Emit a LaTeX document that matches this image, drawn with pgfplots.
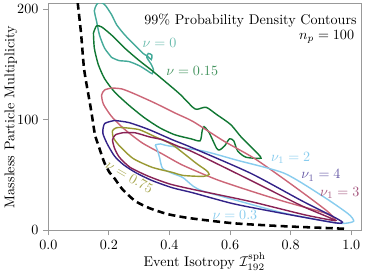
\documentclass[border=0pt]{standalone}
\usepackage{pgfplots}
\pgfplotsset{compat=1.18}
\definecolor{cteal}{HTML}{44AA99}
\definecolor{cgreen}{HTML}{117733}
\definecolor{ccyan}{HTML}{88CCEE}
\definecolor{colive}{HTML}{999933}
\definecolor{crose}{HTML}{CC6677}
\definecolor{cwine}{HTML}{882255}
\definecolor{cindigo}{HTML}{332288}
\begin{document}
\begin{tikzpicture}
\begin{axis}[
  width=221.8pt, height=160.6pt, scale only axis,
  xmin=0, xmax=1.033, ymin=0, ymax=205,
  xtick={0,0.2,0.4,0.6,0.8,1.0},
  xticklabels={0.0,0.2,0.4,0.6,0.8,1.0},
  ytick={0,100,200},
  tick align=outside, tick pos=left,
  axis line style={gray!80},
  major tick style={gray!80, line width=0.6pt},
  major tick length=3.5pt,
  xlabel={Event Isotropy $\mathcal{I}^{\rm sph}_{192}$},
  ylabel={Massless Particle Multiplicity},
  xlabel style={yshift=5pt},
  ylabel style={yshift=-7pt},
  every axis plot/.append style={line width=1pt},
]
% dashed boundary
\addplot[black, line width=1.8pt, dash pattern=on 5pt off 3pt, smooth, tension=0.4] coordinates {
(0.097,206) (0.108,178.5) (0.118,146.3) (0.132,123.3) (0.142,107.6) (0.154,86.5) (0.165,77.3) (0.176,68.1) (0.186,60.7) (0.202,52.4) (0.219,46.9) (0.243,37.7) (0.286,26.7) (0.333,20.2) (0.394,14.7) (0.468,11.0) (0.612,6.4) (0.780,3.7) (0.947,1.8) (0.981,1.4)
};
% teal nu=0
\addplot[cteal, smooth, tension=0.4] coordinates {
(0.209,156.4) (0.233,153.6) (0.266,152.7) (0.300,149.0) (0.327,144.4) (0.343,141.7) (0.347,145.4) (0.340,150.0) (0.333,153.0) (0.325,156.5) (0.330,160.0) (0.342,158.5) (0.340,154.5) (0.328,157.5) (0.313,160.0) (0.286,167.4) (0.253,176.6) (0.226,185.8) (0.209,195.0) (0.189,203.3) (0.176,206) (0.165,206) (0.159,204) (0.152,198.7) (0.159,189.5) (0.169,176.6) (0.186,164.7) (0.209,156.4)
};
% green nu=0.15
\addplot[cgreen, smooth, tension=0.4] coordinates {
(0.149,178.5) (0.152,164.7) (0.165,150.0) (0.186,137.1) (0.219,125.1) (0.266,113.2) (0.316,102.1) (0.367,92.9) (0.417,86.5) (0.471,82.8) (0.501,81.0) (0.508,90.2) (0.514,93.8) (0.531,88.3) (0.555,74.5) (0.565,72.7) (0.582,76.4) (0.598,82.8) (0.612,81.0) (0.625,71.8) (0.652,66.2) (0.702,65.3) (0.679,72.7) (0.636,84.6) (0.602,95.7) (0.555,104.9) (0.521,111.3) (0.491,109.5) (0.477,111.3) (0.434,123.3) (0.387,134.3) (0.343,144.4) (0.300,153.6) (0.253,164.7) (0.209,176.6) (0.176,184.0) (0.159,184.9) (0.149,178.5)
};
% rose
\addplot[crose, smooth, tension=0.4] coordinates {
(0.209,128.8) (0.243,127.9) (0.286,123.3) (0.353,115.0) (0.421,105.8) (0.478,98.4) (0.578,81.0) (0.679,65.3) (0.780,46.0) (0.863,29.4) (0.920,17.5) (0.944,11.0) (0.914,15.6) (0.780,26) (0.669,35.5) (0.555,46) (0.444,58.9) (0.377,69.0) (0.310,79.1) (0.253,91.1) (0.209,103.0) (0.182,114.1) (0.176,122.4) (0.186,127.0) (0.209,128.8)
};
% light blue
\addplot[ccyan, smooth, tension=0.4] coordinates {
(0.353,77.3) (0.370,78.2) (0.397,76.4) (0.511,71.8) (0.622,63.5) (0.780,51.5) (0.914,29.4) (0.991,14.7) (1.008,8.3) (0.981,6.4) (0.947,6.8) (0.780,15.5) (0.629,26.5) (0.511,35.5) (0.478,40) (0.444,47.8) (0.410,51.5) (0.377,56.1) (0.367,66.2) (0.360,72.7) (0.353,77.3)
};
% olive nu=0.75
\addplot[colive, smooth, tension=0.4] coordinates {
(0.249,92.9) (0.300,91.1) (0.353,84.6) (0.410,77.3) (0.488,60.7) (0.521,54.3) (0.531,50.6) (0.511,48.8) (0.444,49.7) (0.410,52.4) (0.343,57.0) (0.280,65.0) (0.235,76.4) (0.215,83.7) (0.212,90.2) (0.226,92.9) (0.249,92.9)
};
% indigo nu1=4
\addplot[cindigo, smooth, tension=0.4] coordinates {
(0.219,99.4) (0.266,97.5) (0.333,91.1) (0.410,81.9) (0.477,74.5) (0.669,51.5) (0.837,26.7) (0.937,12.9) (0.971,7.4) (0.947,6.8) (0.780,15) (0.612,24) (0.477,34) (0.410,38.5) (0.343,45) (0.290,52) (0.250,59) (0.219,67) (0.195,78) (0.180,88) (0.186,96.6) (0.219,99.4)
};
% wine nu1=3
\addplot[cwine, smooth, tension=0.4] coordinates {
(0.246,88.3) (0.286,88.3) (0.333,84.6) (0.377,81.9) (0.434,75.4) (0.478,70.8) (0.669,45.1) (0.837,22.1) (0.924,12.0) (0.947,8.7) (0.847,14) (0.669,26) (0.478,37) (0.400,42) (0.330,49) (0.270,57) (0.235,66) (0.219,74) (0.212,81.9) (0.222,86.5) (0.246,88.3)
};
% labels
\node[text=cteal!80!white] at (axis cs:0.367,169.6) {$\nu = 0$};
\node[text=cgreen!80!white] at (axis cs:0.475,144.4) {$\nu = 0.15$};
\node[text=ccyan] at (axis cs:0.80,65.3) {$\nu_1 = 2$};
\node[text=cindigo!75!white] at (axis cs:0.90,49.7) {$\nu_1 = 4$};
\node[text=cwine!75!white] at (axis cs:0.962,34) {$\nu_1 = 3$};
\node[text=ccyan] at (axis cs:0.616,13.5) {$\nu = 0.3$};
\node[text=colive!85!white, rotate=-30] at (axis cs:0.268,48.5) {$\nu = 0.75$};
\node[anchor=east, inner sep=0pt] at (rel axis cs:0.986,0.924) {99\% Probability Density Contours};
\node[anchor=east, inner sep=0pt] at (rel axis cs:0.978,0.852) {$n_p = 100$};
\end{axis}
\end{tikzpicture}
\end{document}
